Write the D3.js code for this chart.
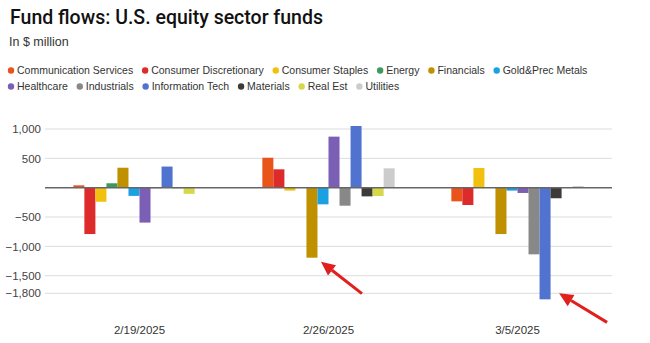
<!DOCTYPE html>
<html><head><meta charset="utf-8">
<script src="https://cdn.jsdelivr.net/npm/d3@7"></script>
<style>
html,body{margin:0;padding:0;background:#fff;}
svg{display:block;font-family:"Liberation Sans",Arial,sans-serif;}
</style></head>
<body><svg id="c" width="650" height="343"></svg>
<script>
const dates = ["2/19/2025", "2/26/2025", "3/5/2025"];
const sectors = ["Communication Services","Consumer Discretionary","Consumer Staples","Energy","Financials","Gold&Prec Metals","Healthcare","Industrials","Information Tech","Materials","Real Est","Utilities"];
const palette = ["#e8541a","#dd2a2a","#f2c10f","#3c9a5f","#bf9000","#1ba1e2","#7b5fb5","#888888","#4f73cf","#3e3a38","#d6d84a","#cccccc"];
const flows_0219 = [40, -790, -240, 75, 340, -140, -595, -10, 360, -8, -105, 3];
const flows_0226 = [510, 313, -50, 8, -1193, -284, 870, -307, 1051, -148, -142, 330];
const flows_0305 = [-233, -295, 335, 5, -790, -50, -90, -1136, -1903, -180, 2, 28];
const yTicks = [1000, 500, 0, -500, -1000, -1500, -1800];

const seriesByDate = [flows_0219, flows_0226, flows_0305];
const svg = d3.select("#c");

// Title and subtitle
svg.append("text").attr("x", 10).attr("y", 24).attr("font-size", 21).attr("font-weight", 500)
  .attr("font-family", "Roboto, 'Liberation Sans', Arial, sans-serif")
  .attr("textLength", 313).attr("lengthAdjust", "spacingAndGlyphs")
  .attr("fill", "#111").text("Fund flows: U.S. equity sector funds");
svg.append("text").attr("x", 9).attr("y", 46).attr("font-size", 12.5).attr("fill", "#333").text("In $ million");

// Legend
const legendRows = [sectors.slice(0, 6), sectors.slice(6)];
const legendY = [74, 90];
legendRows.forEach((row, ri) => {
  let x = 11;
  row.forEach(name => {
    const i = sectors.indexOf(name);
    const g = svg.append("g");
    g.append("circle").attr("cx", x).attr("cy", legendY[ri] - 3.5).attr("r", 3.2).attr("fill", palette[i]);
    const t = g.append("text").attr("x", x + 6).attr("y", legendY[ri]).attr("font-size", 10.5)
      .attr("fill", "#333").text(name);
    x += 6 + t.node().getComputedTextLength() + 12;
  });
});

// Scales
const x0 = d3.scaleBand().domain(dates).range([45, 612]).paddingInner(0.3).paddingOuter(0.15);
const x1 = d3.scaleBand().domain(sectors).range([0, x0.bandwidth()]);
const y = d3.scaleLinear().domain([-1800, 1000]).range([293.3, 129]);

// Grid + y axis
const yAxis = d3.axisLeft(y).tickValues(yTicks).tickSize(0)
  .tickFormat(d => d === 0 ? "" : d3.format(",")(d));
const ya = svg.append("g").attr("transform", "translate(41,0)").call(yAxis);
ya.select(".domain").remove();
ya.selectAll("text").attr("font-size", 11.5).attr("fill", "#444").attr("x", 0)
  .attr("font-family", "Liberation Sans, Arial, sans-serif");

svg.append("g").selectAll("line").data(yTicks.filter(d => d !== 0)).join("line")
  .attr("x1", 45).attr("x2", 612).attr("y1", d => y(d)).attr("y2", d => y(d))
  .attr("stroke", "#dcdcdc").attr("stroke-width", 1);

// Bars
const groups = svg.append("g").selectAll("g").data(dates).join("g")
  .attr("transform", d => `translate(${x0(d)},0)`);
groups.selectAll("rect").data((d, di) => sectors.map((s, si) => ({s, si, v: seriesByDate[di][si]})))
  .join("rect")
  .attr("x", d => x1(d.s)).attr("width", x1.bandwidth())
  .attr("y", d => Math.min(y(0), y(d.v))).attr("height", d => Math.abs(y(d.v) - y(0)))
  .attr("fill", d => palette[d.si]);

// Zero line
svg.append("line").attr("x1", 45).attr("x2", 612).attr("y1", y(0)).attr("y2", y(0))
  .attr("stroke", "#666").attr("stroke-width", 1.5);

// X axis labels
const xa = svg.append("g").attr("transform", "translate(0,334)")
  .call(d3.axisBottom(x0).tickSize(0).tickPadding(0));
xa.select(".domain").remove();
xa.selectAll("text").attr("font-size", 11.5).attr("fill", "#333").attr("dy", 0)
  .attr("font-family", "Liberation Sans, Arial, sans-serif");

// Annotation arrows
function arrow(tx, ty, dx, dy) {
  const len = Math.hypot(dx, dy), ux = dx / len, uy = dy / len;
  const head = 14, hw = 6.5;
  const bx = tx + ux * head, by = ty + uy * head;
  svg.append("line").attr("x1", bx).attr("y1", by).attr("x2", tx + dx).attr("y2", ty + dy)
    .attr("stroke", "#e0201c").attr("stroke-width", 3);
  svg.append("path").attr("d", `M${tx},${ty}L${bx - uy * hw},${by + ux * hw}L${bx + uy * hw},${by - ux * hw}Z`)
    .attr("fill", "#e0201c");
}
const barCenter = (date, sector) => x0(date) + x1(sector) + x1.bandwidth() / 2;
arrow(barCenter("2/26/2025", "Financials") + 9, y(flows_0226[4]) + 4, 41, 32);
arrow(barCenter("3/5/2025", "Information Tech") + 14, y(flows_0305[8]) - 6, 48, 29);
</script></body></html>
